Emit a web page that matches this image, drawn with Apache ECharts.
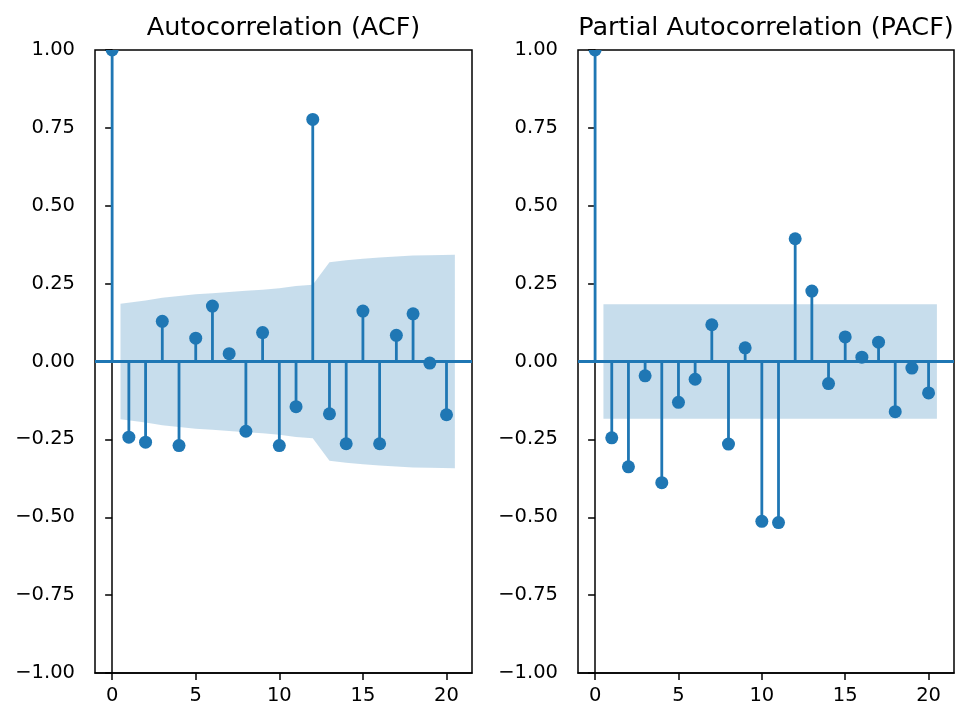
<!DOCTYPE html>
<html>
<head>
<meta charset="utf-8">
<script src="https://cdn.jsdelivr.net/npm/echarts@6/dist/echarts.min.js"></script>
<style>
html,body{margin:0;padding:0;background:#fff;}
#chart{width:957px;height:707px;}
</style>
</head>
<body>
<div id="chart"></div>
<script>
// ---- data ----
const lags = [0,1,2,3,4,5,6,7,8,9,10,11,12,13,14,15,16,17,18,19,20];
const acfValues = [1.0,-0.243,-0.259,0.129,-0.270,0.075,0.178,0.025,-0.224,0.093,-0.270,-0.145,0.777,-0.168,-0.264,0.162,-0.264,0.084,0.153,-0.005,-0.171];
const pacfValues = [1.0,-0.245,-0.338,-0.046,-0.389,-0.131,-0.057,0.118,-0.265,0.044,-0.513,-0.517,0.394,0.226,-0.071,0.079,0.014,0.062,-0.161,-0.021,-0.101];
const bandLags = [0.5,2,3,4,5,6,7,8,9,10,11,12,13,14,15,16,17,18,19,20.5];
const acfBand = [0.185,0.196,0.205,0.210,0.216,0.219,0.223,0.227,0.230,0.235,0.242,0.246,0.319,0.325,0.330,0.334,0.337,0.340,0.341,0.343];
const pacfBand = [0.184,0.184,0.184,0.184,0.184,0.184,0.184,0.184,0.184,0.184,0.184,0.184,0.184,0.184,0.184,0.184,0.184,0.184,0.184,0.184];
const xTicks = [0,5,10,15,20];
const titles = ['Autocorrelation (ACF)','Partial Autocorrelation (PACF)'];

const BLUE = '#1f77b4';
const FONT = '"DejaVu Sans", sans-serif';
const chart = echarts.init(document.getElementById('chart'), null, {renderer:'canvas'});

const grids = [
  {left:95, top:50, width:377, height:623},
  {left:578, top:50, width:376, height:623}
];

function xAxisCfg(i){
  return {
    type:'value', gridIndex:i, min:-1.025, max:21.525,
    splitLine:{show:false},
    axisLine:{show:true, onZero:false, lineStyle:{color:'#000', width:1.5}},
    axisTick:{show:true, length:7, customValues:xTicks, lineStyle:{color:'#000', width:1.5}},
    axisLabel:{show:true, customValues:xTicks, color:'#000', fontFamily:FONT, fontSize:19.5, margin:13}
  };
}
function yAxisCfg(i){
  return {
    type:'value', gridIndex:i, min:-1, max:1, interval:0.25,
    splitLine:{show:false},
    axisLine:{show:true, lineStyle:{color:'#000', width:1.5}},
    axisTick:{show:true, length:7, lineStyle:{color:'#000', width:1.5}},
    axisLabel:{color:'#000', fontFamily:FONT, fontSize:19.5, margin:20,
      formatter:function(v){ return v.toFixed(2).replace('-', '\u2212'); }}
  };
}

function bandSeries(i, band){
  return {
    type:'custom', xAxisIndex:i, yAxisIndex:i, clip:true, silent:true, z:3,
    data:[[0]],
    renderItem:function(params, api){
      const pts = [];
      for (let k=0;k<bandLags.length;k++) pts.push(api.coord([bandLags[k], band[k]]));
      for (let k=bandLags.length-1;k>=0;k--) pts.push(api.coord([bandLags[k], -band[k]]));
      return {type:'polygon', shape:{points:pts}, style:{fill:'rgba(31,119,180,0.25)'}};
    }
  };
}

function stemSeries(i, values){
  return {
    type:'custom', xAxisIndex:i, yAxisIndex:i, clip:true, silent:true, z:2,
    data: lags.map((l,k)=>[l, values[k]]),
    renderItem:function(params, api){
      const base = api.coord([api.value(0), 0]);
      const top = api.coord([api.value(0), api.value(1)]);
      return {type:'group', children:[
        {type:'line', shape:{x1:base[0], y1:base[1], x2:top[0], y2:top[1]},
          style:{stroke:BLUE, lineWidth:2.8}},
        {type:'circle', shape:{cx:top[0], cy:top[1], r:6.5}, style:{fill:BLUE}}
      ]};
    },
    markLine:{
      silent:true, symbol:['none','none'], animation:false,
      label:{show:false},
      lineStyle:{color:BLUE, width:2.8, type:'solid'},
      data:[{yAxis:0}]
    }
  };
}

const option = {
  animation:false,
  backgroundColor:'#fff',
  grid: grids.map(g=>Object.assign({show:true, borderColor:'#000', borderWidth:1.5, backgroundColor:'transparent', containLabel:false}, g)),
  xAxis:[xAxisCfg(0), xAxisCfg(1)],
  yAxis:[yAxisCfg(0), yAxisCfg(1)],
  graphic:[
    {type:'text', x:283.5, y:28.5, style:{text:titles[0], font:'25.5px '+FONT, fill:'#000', align:'center', verticalAlign:'middle'}},
    {type:'text', x:766, y:28.5, style:{text:titles[1], font:'25.5px '+FONT, fill:'#000', align:'center', verticalAlign:'middle'}}
  ],
  series:[
    stemSeries(0, acfValues), bandSeries(0, acfBand),
    stemSeries(1, pacfValues), bandSeries(1, pacfBand)
  ]
};
chart.setOption(option);
</script>
</body>
</html>
